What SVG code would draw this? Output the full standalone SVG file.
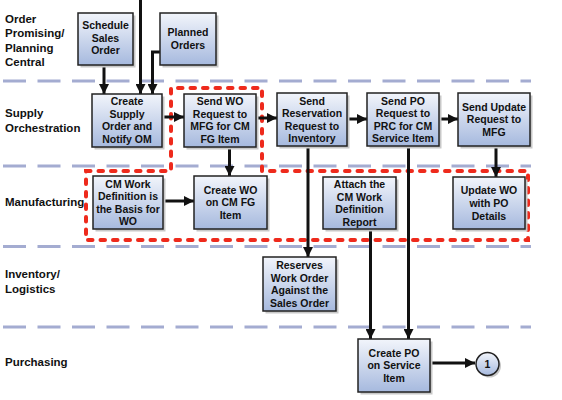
<svg xmlns="http://www.w3.org/2000/svg" width="562" height="400" viewBox="0 0 562 400">
<defs>
<linearGradient id="boxg" x1="0" y1="0" x2="0" y2="1">
<stop offset="0" stop-color="#f2f5fb"/>
<stop offset="1" stop-color="#a6b9de"/>
</linearGradient>
<marker id="ah" markerUnits="userSpaceOnUse" markerWidth="11" markerHeight="10" refX="10" refY="5" orient="auto">
<path d="M0,0 L10,5 L0,10 z" fill="#111"/>
</marker>
<style>
.lane{stroke:#a4acd1;stroke-width:3;stroke-dasharray:23 11.5;fill:none}
.red{stroke:#ee2a1c;stroke-width:4;stroke-dasharray:4.5 8;stroke-linecap:round;fill:none}
.box{fill:url(#boxg);stroke:#222;stroke-width:1.5}
.sh{fill:#c8c8c8}
.bt{font-family:"Liberation Sans",Arial,sans-serif;font-weight:bold;font-size:10.5px;fill:#111;text-anchor:middle}
.lt{font-family:"Liberation Sans",Arial,sans-serif;font-weight:bold;font-size:11.5px;fill:#111}
.con{stroke:#111;stroke-width:3;fill:none;marker-end:url(#ah)}
</style>
</defs>
<rect width="562" height="400" fill="#fff"/>
<g id="lanes">
<line class="lane" x1="3" y1="81" x2="531" y2="81"/>
<line class="lane" x1="3" y1="166" x2="531" y2="166"/>
<line class="lane" x1="3" y1="246.5" x2="531" y2="246.5"/>
<line class="lane" x1="3" y1="327" x2="531" y2="327"/>
</g>
<g id="lane-labels">
<text class="lt" x="5" y="23">Order</text>
<text class="lt" x="5" y="37">Promising/</text>
<text class="lt" x="5" y="51.5">Planning</text>
<text class="lt" x="5" y="65.5">Central</text>
<text class="lt" x="5" y="117">Supply</text>
<text class="lt" x="5" y="131.5">Orchestration</text>
<text class="lt" x="5" y="205.5">Manufacturing</text>
<text class="lt" x="5" y="277.5">Inventory/</text>
<text class="lt" x="5" y="292.5">Logistics</text>
<text class="lt" x="5" y="366">Purchasing</text>
</g>
<g id="red-region">
<path class="red" d="M86,171 L171,171 L171,88 L262,88 L262,171 L528,171 L528,240 L86,240 Z"/>
</g>
<g id="connectors">
<line class="con" x1="140.5" y1="0" x2="140.5" y2="94"/>
<line class="con" x1="104" y1="65" x2="104" y2="94"/>
<polyline class="con" points="160,52 152.5,52 152.5,94"/>
<line class="con" x1="162" y1="117" x2="184" y2="117"/>
<line class="con" x1="256" y1="118" x2="277" y2="118"/>
<line class="con" x1="347" y1="119" x2="367" y2="119"/>
<line class="con" x1="439" y1="119" x2="458" y2="119"/>
<line class="con" x1="229.5" y1="147" x2="229.5" y2="176"/>
<line class="con" x1="163" y1="201" x2="194" y2="201"/>
<line class="con" x1="496" y1="146" x2="496" y2="177"/>
<line class="con" x1="308" y1="146" x2="308" y2="257"/>
<line class="con" x1="408.5" y1="146" x2="408.5" y2="339"/>
<line class="con" x1="370.5" y1="229" x2="370.5" y2="339"/>
<line class="con" x1="430" y1="363" x2="475" y2="363"/>
</g>
<g id="schedule-sales-order">
<rect class="sh" x="80.5" y="15.5" width="55" height="52"/>
<rect class="box" x="78" y="13" width="55" height="52"/>
<text class="bt" x="105.5" y="29">Schedule</text>
<text class="bt" x="105.5" y="41.6">Sales</text>
<text class="bt" x="105.5" y="54.2">Order</text>
</g>
<g id="planned-orders">
<rect class="sh" x="162.5" y="15.5" width="56" height="52"/>
<rect class="box" x="160" y="13" width="56" height="52"/>
<text class="bt" x="188" y="36">Planned</text>
<text class="bt" x="188" y="48.6">Orders</text>
</g>
<g id="create-supply-order">
<rect class="sh" x="94.5" y="96.5" width="70" height="53"/>
<rect class="box" x="92" y="94" width="70" height="53"/>
<text class="bt" x="127" y="105">Create</text>
<text class="bt" x="127" y="117.6">Supply</text>
<text class="bt" x="127" y="130.2">Order and</text>
<text class="bt" x="127" y="142.8">Notify OM</text>
</g>
<g id="send-wo-request">
<rect class="sh" x="186.5" y="96.5" width="72" height="53"/>
<rect class="box" x="184" y="94" width="72" height="53"/>
<text class="bt" x="220" y="105">Send WO</text>
<text class="bt" x="220" y="117.6">Request to</text>
<text class="bt" x="220" y="130.2">MFG for CM</text>
<text class="bt" x="220" y="142.8">FG Item</text>
</g>
<g id="send-reservation">
<rect class="sh" x="279.5" y="95.5" width="70" height="53"/>
<rect class="box" x="277" y="93" width="70" height="53"/>
<text class="bt" x="312" y="104.5">Send</text>
<text class="bt" x="312" y="117.1">Reservation</text>
<text class="bt" x="312" y="129.7">Request to</text>
<text class="bt" x="312" y="142.3">Inventory</text>
</g>
<g id="send-po-request">
<rect class="sh" x="369.5" y="95.5" width="72" height="53"/>
<rect class="box" x="367" y="93" width="72" height="53"/>
<text class="bt" x="403" y="104.5">Send PO</text>
<text class="bt" x="403" y="117.1">Request to</text>
<text class="bt" x="403" y="129.7">PRC for CM</text>
<text class="bt" x="403" y="142.3">Service Item</text>
</g>
<g id="send-update-request">
<rect class="sh" x="460.5" y="95.5" width="72" height="53"/>
<rect class="box" x="458" y="93" width="72" height="53"/>
<text class="bt" x="494" y="110.8">Send Update</text>
<text class="bt" x="494" y="123.4">Request to</text>
<text class="bt" x="494" y="136">MFG</text>
</g>
<g id="cm-work-definition">
<rect class="sh" x="95.5" y="178.5" width="70" height="53"/>
<rect class="box" x="93" y="176" width="70" height="53"/>
<text class="bt" x="128" y="187.5">CM Work</text>
<text class="bt" x="128" y="200.1">Definition is</text>
<text class="bt" x="128" y="212.7">the Basis for</text>
<text class="bt" x="128" y="225.3">WO</text>
</g>
<g id="create-wo">
<rect class="sh" x="196.5" y="178.5" width="73" height="53"/>
<rect class="box" x="194" y="176" width="73" height="53"/>
<text class="bt" x="230.5" y="193.8">Create WO</text>
<text class="bt" x="230.5" y="206.4">on CM FG</text>
<text class="bt" x="230.5" y="219">Item</text>
</g>
<g id="attach-cm-work-definition">
<rect class="sh" x="325.5" y="179.5" width="73" height="52"/>
<rect class="box" x="323" y="177" width="73" height="52"/>
<text class="bt" x="359.5" y="188">Attach the</text>
<text class="bt" x="359.5" y="200.6">CM Work</text>
<text class="bt" x="359.5" y="213.2">Definition</text>
<text class="bt" x="359.5" y="225.8">Report</text>
</g>
<g id="update-wo">
<rect class="sh" x="455.5" y="179.5" width="72" height="52"/>
<rect class="box" x="453" y="177" width="72" height="52"/>
<text class="bt" x="489" y="194.3">Update WO</text>
<text class="bt" x="489" y="206.9">with PO</text>
<text class="bt" x="489" y="219.5">Details</text>
</g>
<g id="reserves-work-order">
<rect class="sh" x="265.5" y="259.5" width="73" height="54"/>
<rect class="box" x="263" y="257" width="73" height="54"/>
<text class="bt" x="299.5" y="268.9">Reserves</text>
<text class="bt" x="299.5" y="281.5">Work Order</text>
<text class="bt" x="299.5" y="294.1">Against the</text>
<text class="bt" x="299.5" y="306.7">Sales Order</text>
</g>
<g id="create-po">
<rect class="sh" x="360.5" y="341.5" width="72" height="53"/>
<rect class="box" x="358" y="339" width="72" height="53"/>
<text class="bt" x="394" y="356.8">Create PO</text>
<text class="bt" x="394" y="369.4">on Service</text>
<text class="bt" x="394" y="382">Item</text>
</g>
<g id="connector-1">
<circle cx="489.5" cy="366" r="11.5" fill="#c8c8c8"/>
<circle class="box" cx="487.5" cy="364" r="11.5"/>
<text class="bt" x="487.5" y="368">1</text>
</g>
</svg>
